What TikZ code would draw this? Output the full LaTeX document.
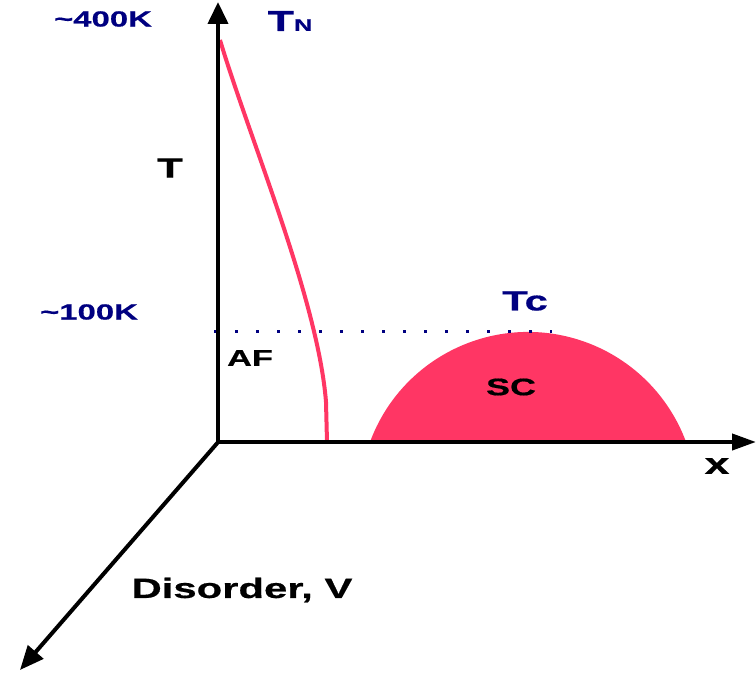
\documentclass[tikz,border=0pt]{standalone}
\usepackage{fontspec}
\setmainfont{Liberation Sans}[FakeStretch=1.5, FakeBold=0.6]
\usepackage{tikz}
\usetikzlibrary{arrows.meta,positioning}
\definecolor{tempnavy}{RGB}{0,0,128}
\definecolor{phasered}{RGB}{255,54,100}

\begin{document}
\begin{tikzpicture}[
    x=1bp, y=-1bp,
    every node/.style={inner sep=0pt},
    axislabel/.style={font=\bfseries\fontsize{#1}{#1}\selectfont, text=black},
    templabel/.style={font=\bfseries\fontsize{#1}{#1}\selectfont, text=tempnavy},
    axisline/.style={line width=4bp, color=black},
    phaseline/.style={line width=4bp, color=phasered, line join=round}
]
\useasboundingbox (0,0) rectangle (756,680);

% Axes
\coordinate (origin) at (218,442);
\coordinate (ttip) at (218,2);
\coordinate (xtip) at (756,442);
\coordinate (vtip) at (20,670);

% SC dome
\fill[phasered] (370,442) arc[start angle=200.3, end angle=339.7, radius=168.5] -- cycle;

% Neel line
\draw[phaseline] (220,40) .. controls (250,140) and (318,300) .. (326,402) -- (327,442);

% Tc level
\draw[tempnavy, line width=3bp, dash pattern=on 3bp off 18bp] (214,331) -- (552,331);

\draw[axisline, -{Triangle[length=22bp,width=20bp]}] (origin) -- (ttip);
\draw[axisline, -{Triangle[length=24bp,width=16bp]}] (origin) -- (xtip);
\draw[axisline, -{Triangle[length=24bp,width=20bp]}] ([shift={(1.5,-1.5)}]origin) -- (vtip);

% Labels
\node[templabel=22] (t400) at (103,19) {\textasciitilde400K};
\node[templabel=29] (tn) at (290,21) {T{\fontsize{17}{17}\selectfont N}};
\node[templabel=22] (t100) at (89,312) {\textasciitilde100K};
\node[templabel=28] (tc) at (525,301) {Tc};
\node[axislabel=28] (tlab) at (170,168) {T};
\node[axislabel=23] (af) at (250,358) {AF};
\node[axislabel=24] (sc) at (511,387) {SC};
\node[axislabel=30] (xlab) at (717,466) {x};
\node[axislabel=28] (vlab) at (242,590) {Disorder, V};

\end{tikzpicture}
\end{document}
